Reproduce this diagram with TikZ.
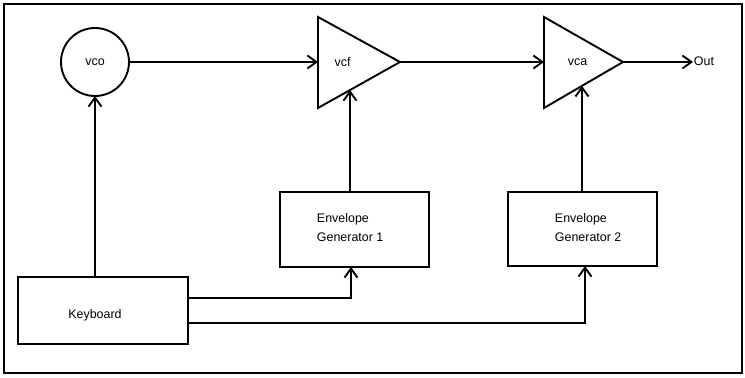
\documentclass[tikz,border=0pt]{standalone}
\usepackage{fontspec}
\setmainfont{Liberation Sans}
\usetikzlibrary{arrows.meta,calc}
\begin{document}
\begin{tikzpicture}[x=1bp,y=-1bp,line width=1.9bp,
  lbl/.style={font=\fontsize{12.5}{19}\selectfont, inner sep=0pt, align=left},
  blk/.style={draw, rectangle, outer sep=0pt},
  arr/.style={-{Straight Barb[length=9bp,width=13bp,line width=1.9bp]}}]
\useasboundingbox (0,0) rectangle (745,377);
\draw[line width=2.8bp] (4,4) rectangle (742,373);
% amplifiers (triangles)
\draw[line join=miter] (318,17) coordinate (vcfT) -- (400,62) coordinate (vcfA)
  -- (318,108) coordinate (vcfB) -- cycle;
\coordinate (vcfW) at (318,62);
\draw[line join=miter] (544,17) coordinate (vcaT) -- (623,62) coordinate (vcaA)
  -- (544,108) coordinate (vcaB) -- cycle;
\coordinate (vcaW) at (544,62);
% nodes
\node[draw, circle, minimum size=68bp, outer sep=0pt, lbl] (vco) at (95,62) {vco};
\node[lbl] (vcft) at (342.5,62) {vcf};
\node[lbl] (vcat) at (577.5,62) {vca};
\node[lbl, anchor=west] (out) at (693,61.5) {Out};
\node[blk, minimum width=149bp, minimum height=75bp] (eg1) at (354.5,229.5) {};
\node[lbl, anchor=west] (eg1t) at (316,228) {Envelope\\Generator 1};
\node[blk, minimum width=149bp, minimum height=74bp] (eg2) at (582.5,229) {};
\node[lbl, anchor=west] (eg2t) at (554,228) {Envelope\\Generator 2};
\node[blk, minimum width=170bp, minimum height=67bp] (kb) at (103,310.5) {};
\node[lbl] (kbt) at (95,315) {Keyboard};
% edge points on triangles
\coordinate (vcfin) at ($(vcfA)!0.61!(vcfB)$);
\coordinate (vcain) at ($(vcaA)!0.519!(vcaB)$);
\coordinate (eg1top) at ([xshift=-4.5bp]eg1.north);
\coordinate (eg2top) at ([xshift=-0.5bp]eg2.north);
\coordinate (eg1bot) at ([xshift=-3.5bp]eg1.south);
\coordinate (eg2bot) at ([xshift=2.5bp]eg2.south);
% connectors
\draw[arr] (vco.east) -- (vcfW);
\draw[arr] (vcfA) -- (vcaW);
\draw[arr] (vcaA) -- (vcaA -| out.west);
\draw[arr] (vco.south |- kb.north) -- (vco.south);
\draw[arr] (eg1top) -- (eg1top |- vcfin);
\draw[arr] (eg2top) -- (eg2top |- vcain);
\draw[arr] ([yshift=12.5bp]kb.east) -| (eg1bot);
\draw[arr] ([yshift=-12.5bp]kb.east) -| (eg2bot);
\end{tikzpicture}
\end{document}
